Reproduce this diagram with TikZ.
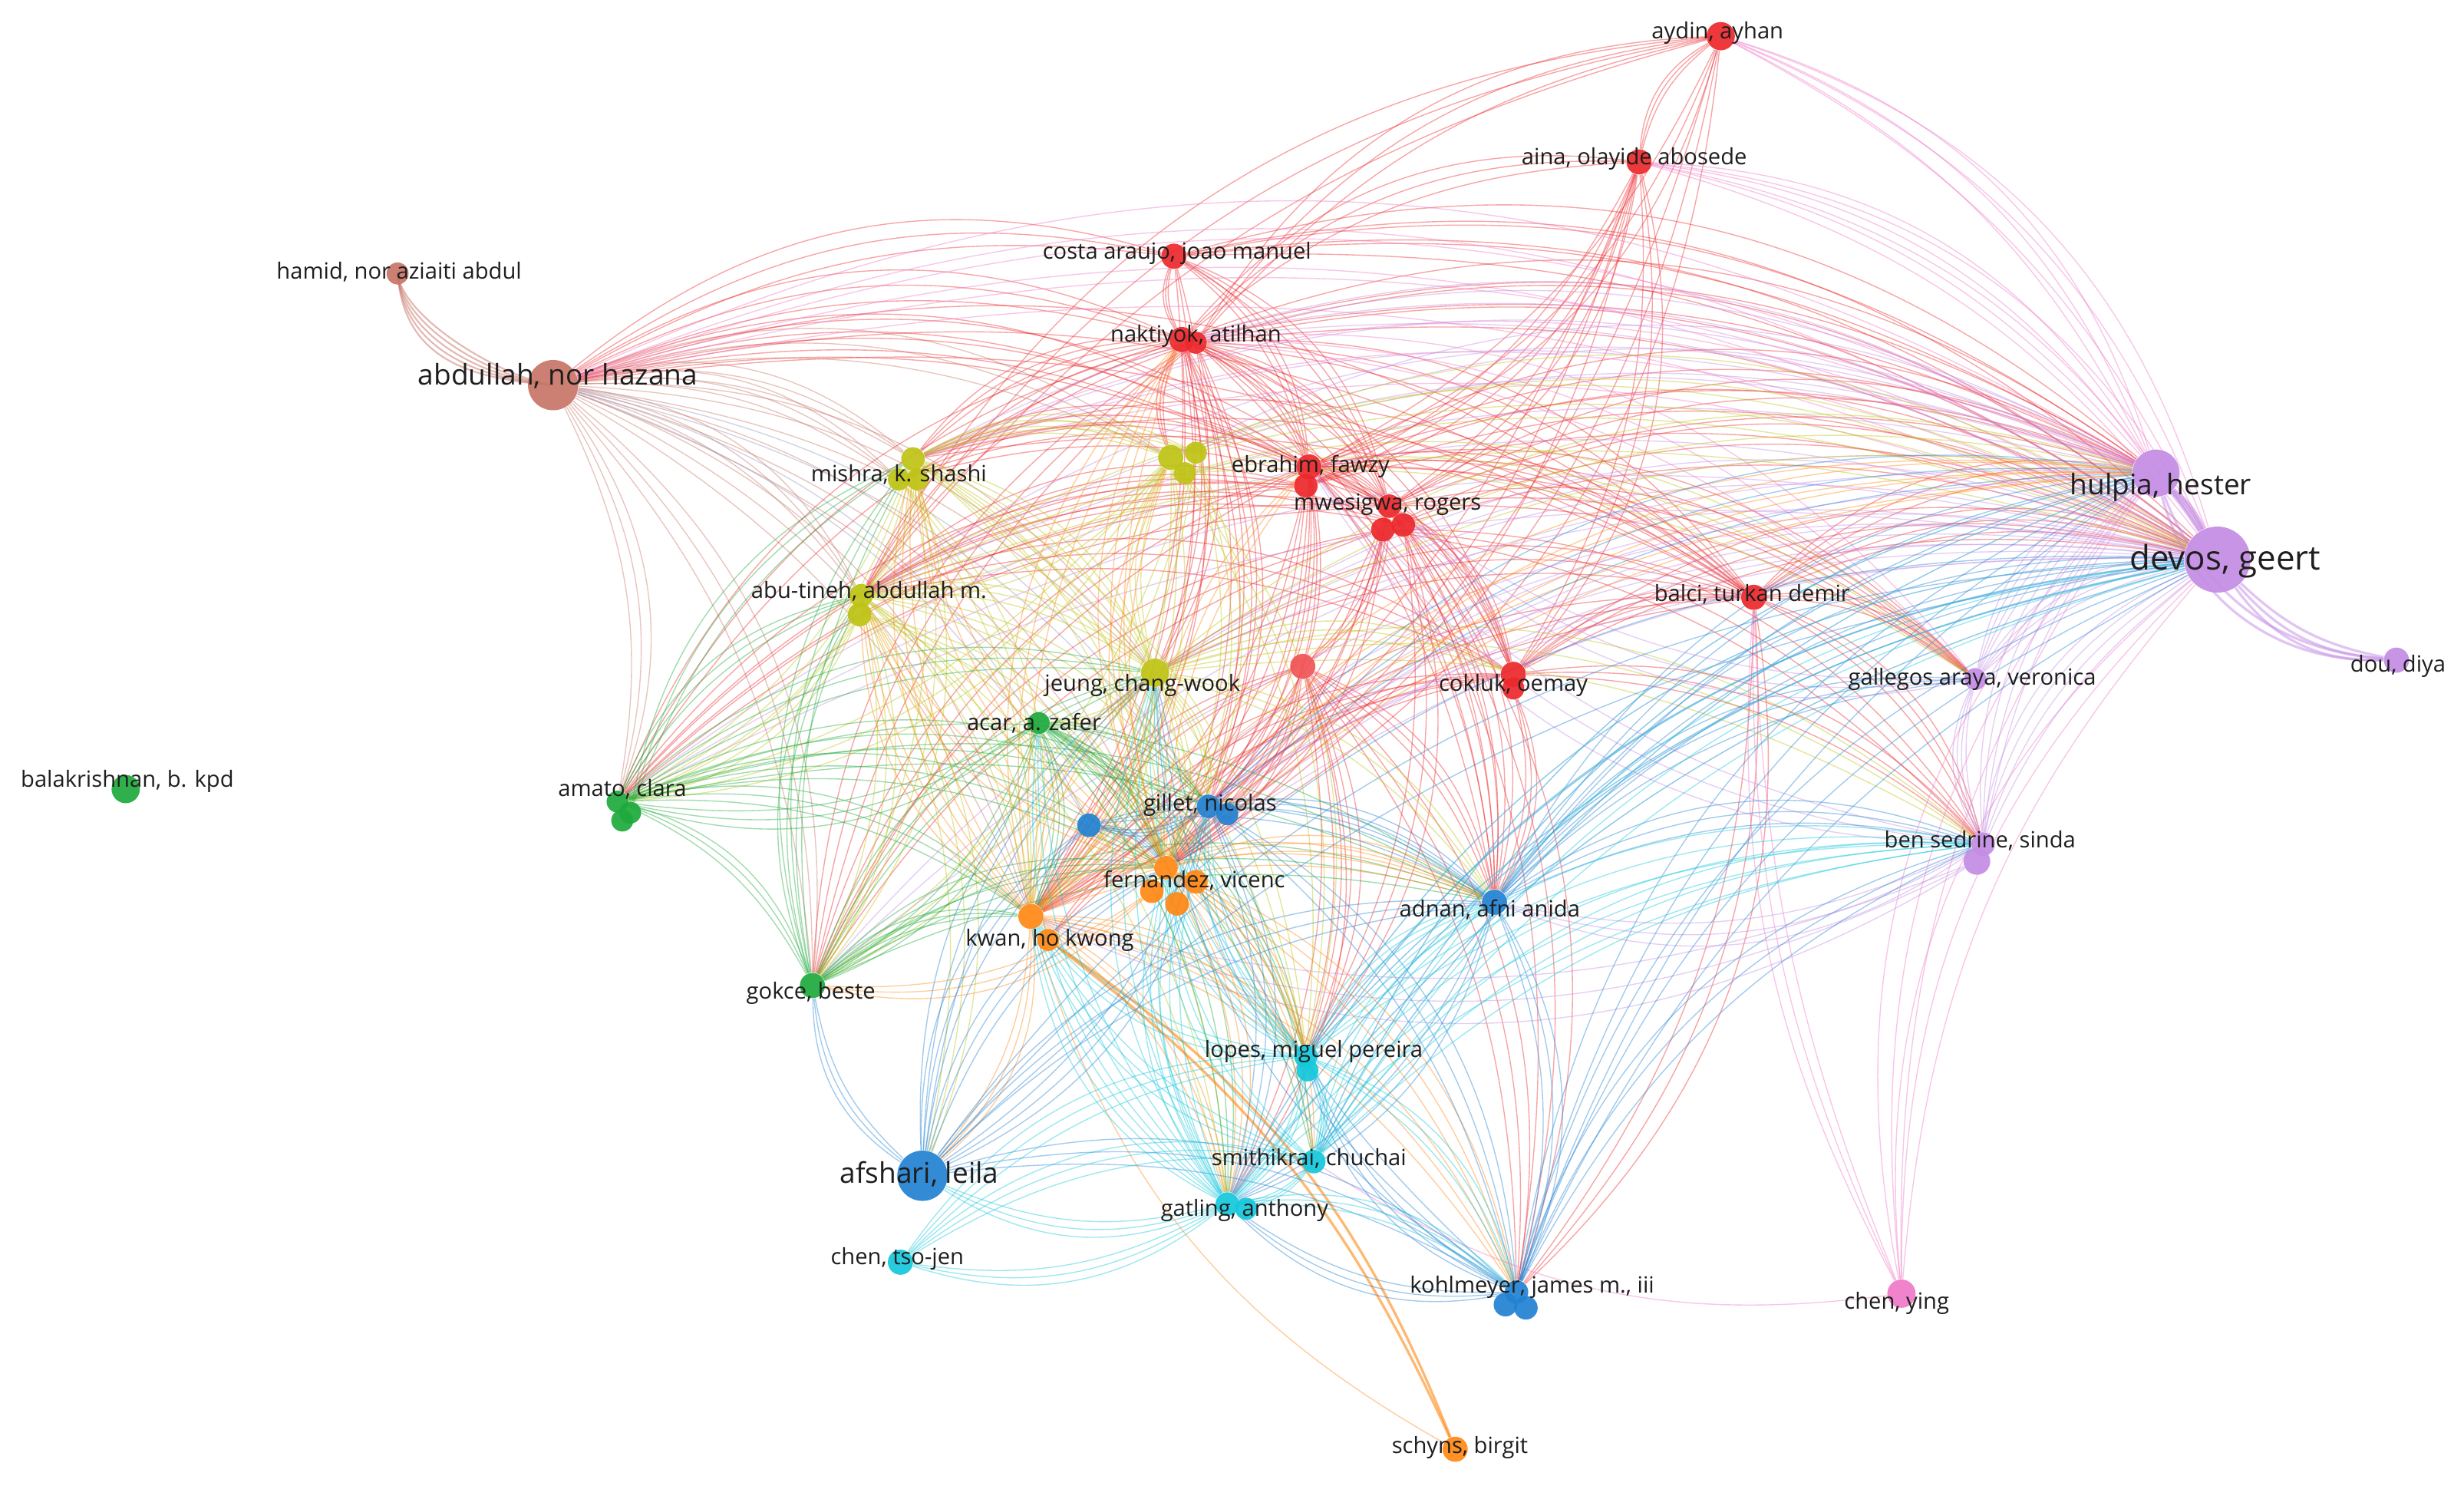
\documentclass[tikz,border=0pt]{standalone}
\usepackage{fontspec}
\setmainfont{Open Sans}
\definecolor{cRed}{RGB}{236,40,44}
\definecolor{cGreen}{RGB}{30,170,60}
\definecolor{cBlue}{RGB}{34,130,210}
\definecolor{cYellow}{RGB}{190,196,20}
\definecolor{cPurple}{RGB}{196,140,228}
\definecolor{cCyan}{RGB}{20,200,220}
\definecolor{cOrange}{RGB}{255,136,20}
\definecolor{cBrown}{RGB}{200,118,104}
\definecolor{cPink}{RGB}{240,120,200}
\definecolor{cText}{RGB}{30,30,30}
\definecolor{cGrey}{RGB}{150,150,190}
\pgfdeclarelayer{bg}
\pgfsetlayers{bg,main}
\tikzset{
 vn/.style={circle,inner sep=0pt,minimum size=#1*0.2mm,fill opacity=0.92},
 lb/.style={font=\fontsize{8.1}{9}\selectfont,text=cText,inner sep=0pt},
 lbm/.style={font=\fontsize{10.3}{11}\selectfont,text=cText,inner sep=0pt},
 lbb/.style={font=\fontsize{12.2}{13}\selectfont,text=cText,inner sep=0pt},
 lnk/.style={line width=0.38pt,draw opacity=0.42},
}
\newcommand\bundle[3]{\foreach \a/\b in {#2}{\foreach \bb in {#3}{\draw[lnk,#1] (\a) to[bend left=\bb] (\b);}}}
\begin{document}
\begin{tikzpicture}[x=0.2mm,y=-0.2mm]
\useasboundingbox (0,0) rectangle (1568,945);
% ---------- nodes ----------
\node[vn=18,fill=cRed] (aydin) at (1095,23) {};
\node[vn=16,fill=cRed] (aina) at (1043,103) {};
\node[vn=16,fill=cRed] (costa) at (747,163) {};
\node[vn=14,fill=cBrown] (hamid) at (253,174) {};
\node[vn=32,fill=cBrown] (abdullah) at (352,245) {};
\node[vn=16,fill=cRed] (naktiyok) at (752,216) {};
\node[vn=14,fill=cRed] (naktiyokb) at (761,218) {};
\node[vn=15,fill=cYellow] (mishra) at (581,292) {};
\node[vn=14,fill=cYellow] (mishrab) at (572,305) {};
\node[vn=14,fill=cYellow] (mishrac) at (584,305) {};
\node[vn=16,fill=cYellow] (yel) at (745,291) {};
\node[vn=14,fill=cYellow] (yelb) at (761,288) {};
\node[vn=14,fill=cYellow] (yelc) at (754,301) {};
\node[vn=16,fill=cRed] (ebrahim) at (833,297) {};
\node[vn=15,fill=cRed] (ebrahimb) at (831,309) {};
\node[vn=15,fill=cRed] (mwesigwa) at (884,322) {};
\node[vn=15,fill=cRed] (mwesigwab) at (880,337) {};
\node[vn=15,fill=cRed] (mwesigwac) at (893,334) {};
\node[vn=30,fill=cPurple] (hulpia) at (1372,301) {};
\node[vn=42,fill=cPurple] (devos) at (1411,356) {};
\node[vn=16,fill=cRed] (balci) at (1116,380) {};
\node[vn=15,fill=cYellow] (abutineh) at (548,379) {};
\node[vn=15,fill=cYellow] (abutinehb) at (547,391) {};
\node[vn=18,fill=cYellow] (jeung) at (735,428) {};
\node[vn=14,fill=cGreen] (acar) at (661,460) {};
\node[vn=16,fill=cRed!80] (redx) at (829,424) {};
\node[vn=16,fill=cRed] (cokluk) at (963,429) {};
\node[vn=14,fill=cRed] (coklukb) at (963,438) {};
\node[vn=14,fill=cPurple] (gallegos) at (1257,432) {};
\node[vn=16,fill=cPurple] (dou) at (1525,420) {};
\node[vn=18,fill=cGreen] (balakrishnan) at (80,502) {};
\node[vn=14,fill=cGreen] (amato) at (393,510) {};
\node[vn=14,fill=cGreen] (amatob) at (401,517) {};
\node[vn=14,fill=cGreen] (amatoc) at (396,522) {};
\node[vn=15,fill=cBlue] (gillet) at (769,513) {};
\node[vn=14,fill=cBlue] (gilletb) at (781,518) {};
\node[vn=15,fill=cBlue] (bluex) at (693,525) {};
\node[vn=15,fill=cPurple] (bensedrine) at (1262,537) {};
\node[vn=17,fill=cPurple] (bensedrineb) at (1258,548) {};
\node[vn=15,fill=cOrange] (fernandez) at (742,552) {};
\node[vn=15,fill=cOrange] (fernandezb) at (733,567) {};
\node[vn=15,fill=cOrange] (fernandezc) at (749,575) {};
\node[vn=15,fill=cOrange] (fernandezd) at (761,561) {};
\node[vn=16,fill=cBlue] (adnan) at (951,574) {};
\node[vn=16,fill=cOrange] (kwan) at (656,583) {};
\node[vn=14,fill=cOrange] (kwanb) at (667,598) {};
\node[vn=16,fill=cGreen] (gokce) at (517,627) {};
\node[vn=15,fill=cCyan] (lopes) at (831,672) {};
\node[vn=14,fill=cCyan] (lopesb) at (832,681) {};
\node[vn=32,fill=cBlue] (afshari) at (587,748) {};
\node[vn=15,fill=cCyan] (smithikrai) at (836,739) {};
\node[vn=15,fill=cCyan] (gatling) at (781,766) {};
\node[vn=14,fill=cCyan] (gatlingb) at (793,769) {};
\node[vn=16,fill=cCyan] (chentsojen) at (573,803) {};
\node[vn=15,fill=cBlue] (kohlmeyer) at (965,822) {};
\node[vn=15,fill=cBlue] (kohlmeyerb) at (958,830) {};
\node[vn=15,fill=cBlue] (kohlmeyerc) at (971,832) {};
\node[vn=18,fill=cPink] (chenying) at (1210,823) {};
\node[vn=16,fill=cOrange] (schyns) at (926,922) {};
% ---------- links ----------
\begin{pgfonlayer}{bg}
\fill[white] (0,0) rectangle (1568,945);
% brown
\foreach \dd in {30,36,42,48,54}{\draw[cBrown,line width=0.6pt,draw opacity=0.5] (hamid.center) .. controls +(4,\dd) and +(-\dd,-4) .. (abdullah.center);}
\bundle{cBrown}{abdullah/mishra, abdullah/abutineh, abdullah/jeung, abdullah/fernandez, abdullah/kwan, abdullah/gokce, abdullah/yel, abdullah/amato, abdullah/mishrab}{18,23,28}
\bundle{cGrey}{abdullah/bluex, abdullah/gillet}{20,24}
% red
\bundle{cRed}{naktiyok/costa, naktiyok/aina, naktiyokb/aydin, naktiyok/ebrahim, naktiyokb/mwesigwa, naktiyok/cokluk, naktiyokb/balci, abdullah/naktiyok, mishra/naktiyok, abutineh/naktiyokb, naktiyok/jeung, naktiyokb/fernandez, naktiyok/kwan, naktiyok/hulpia, naktiyokb/devos, naktiyok/gillet, naktiyokb/adnan, yel/naktiyok, amato/naktiyok, gokce/naktiyokb}{18,23,28}
\bundle{cRed}{costa/ebrahim, costa/mwesigwa, costa/devos, costa/hulpia, abdullah/costa, costa/kwan, aina/aydin, aina/mwesigwa, aina/ebrahimb, aina/cokluk, aina/kwan, aydin/ebrahim, aydin/fernandez, abutineh/aydin}{18,23,28}
\bundle{cRed}{ebrahim/mwesigwa, ebrahim/cokluk, abdullah/ebrahim, mishra/ebrahim, abutineh/ebrahimb, ebrahim/fernandez, ebrahimb/kwan, ebrahim/hulpia, ebrahimb/devos, ebrahim/adnan, ebrahim/gillet, gokce/ebrahim, amato/ebrahimb, ebrahim/balci, ebrahim/gallegos}{18,23,28}
\bundle{cRed}{mwesigwa/cokluk, mwesigwa/redx, mwesigwab/fernandez, mwesigwa/kwan, mwesigwab/devos, mwesigwa/hulpia, abdullah/mwesigwa, mwesigwac/adnan, mwesigwa/gallegos, mwesigwab/bensedrine, mwesigwac/lopes, mwesigwa/kohlmeyer, mishrab/mwesigwa, abutineh/mwesigwac, amato/mwesigwa, gokce/mwesigwab}{18,23,28}
\bundle{cRed}{cokluk/balci, kwan/cokluk, fernandez/cokluk, cokluk/devos, cokluk/bensedrine, abutineh/cokluk, coklukb/adnan, balci/devos, balci/hulpia, balci/gallegos, balci/bensedrine, abdullah/balci, mishra/balci, kwanb/balci, balci/kohlmeyer, jeung/balci, redx/fernandez, redx/adnan, redx/lopes, redx/kohlmeyer, kwan/redx, redx/gatling}{18,23,28}
% pink
\bundle{cPink}{aina/devos, aina/hulpia, aydin/hulpia, aydin/devos, chenying/devos, chenying/hulpia, abdullah/devos, abdullah/hulpia, mishra/devos, naktiyok/gallegos}{18,23,28}
\bundle{cPink}{chenying/balci}{10,13,16}
\draw[lnk,cPink] (chenying) to[bend left=20] (smithikrai);
% purple
\foreach \bb in {3,6,9,12}{\draw[cPurple,line width=1.2pt,draw opacity=0.55] (hulpia) to[bend left=\bb] (devos);}
\foreach \bb in {-28,-22,-16}{\draw[cPurple,line width=0.9pt,draw opacity=0.5] (devos) to[bend left=\bb] (dou);}
\foreach \bb in {-38,-32}{\draw[cPurple,line width=0.9pt,draw opacity=0.5] (hulpia) to[bend left=\bb] (dou);}
\bundle{cPurple}{bensedrine/hulpia, bensedrineb/devos, gallegos/hulpia, gallegos/devos, bensedrine/gallegos}{14,19,24,29}
\bundle{cPurple}{abutineh/hulpia, mishra/hulpia, jeung/devos, kwan/devos, fernandez/devos, gillet/devos, lopes/devos, gatling/devos, smithikrai/hulpia, yel/hulpia, amato/devos, gokce/hulpia, naktiyok/devos, bensedrine/adnan, bensedrineb/kwan, gallegos/mwesigwa, bensedrine/ebrahim}{18,23,28}
% yellow
\bundle{cYellow}{mishra/abutineh, mishra/jeung, mishra/yel, mishrab/kwan, mishra/fernandez, mishrac/gokce, mishra/amato, mishra/lopes, abutineh/jeung, abutineh/kwan, abutinehb/fernandez, abutineh/gokce, abutinehb/amato, abutineh/afshari, abutineh/devos, abutineh/gillet, abutineh/gatling, jeung/yel, jeung/fernandez, jeung/kwan, jeung/gillet, jeung/acar, jeung/hulpia, jeung/cokluk, jeung/adnan, yel/kwan, yelb/fernandez, yel/devos, yelc/gallegos, yel/lopes, yel/abutineh, yelb/gokce, yel/amato, mishra/yelb, jeung/bensedrine}{18,23,28}
% green
\bundle{cGreen}{acar/amato, acar/gokce, acar/kwan, acar/fernandez, acar/gillet, acar/lopes, acar/gatling, acar/smithikrai, amato/gokce, amato/jeung, amato/kwan, amato/fernandez, amato/adnan, amato/gillet, gokce/kwan, gokce/fernandez, gokce/jeung, gokce/abutineh, amatob/mishra, amato/abutineh, gokce/mishra, gokce/adnan}{18,23,28}
% orange
\bundle{cOrange}{kwan/fernandez, kwan/jeung, kwan/naktiyok, kwan/mishra, kwan/abutineh, kwan/afshari, kwan/gatling, kwan/lopes, kwan/adnan, kwan/kohlmeyer, kwan/hulpia, fernandez/naktiyok, fernandez/ebrahim, fernandez/gillet, fernandez/adnan, fernandez/lopes, fernandez/gatling, fernandez/smithikrai, fernandez/hulpia, fernandez/mishra, fernandez/abutineh, fernandez/yel, fernandezb/gokce, fernandez/kohlmeyer}{18,23,28}
\draw[lnk,cOrange] (schyns) to[bend left=22] (kwan);
\foreach \bb in {14,17}{\draw[cOrange,line width=0.9pt,draw opacity=0.6] (kwanb) to[bend left=\bb] (schyns);}
% blue
\bundle{cBlue}{gillet/bluex, gillet/adnan, gillet/afshari, gillet/kohlmeyer, gillet/hulpia, gillet/gatling, adnan/kohlmeyer, afshari/adnan, adnan/devos, adnan/hulpia, adnan/gallegos, adnan/bensedrine, adnan/gatling, afshari/kohlmeyer, afshari/bluex, afshari/devos, afshari/gokce, kohlmeyer/devos, kohlmeyer/hulpia, kohlmeyer/bensedrine, kohlmeyer/gatling, kohlmeyer/lopes, bluex/fernandez, bluex/adnan, afshari/fernandez, afshari/jeung, kohlmeyer/jeung}{18,23,28}
% cyan
\bundle{cCyan}{lopes/smithikrai, lopes/gatling, lopes/kwan, lopes/fernandez, lopes/jeung, lopes/gillet, lopes/adnan, lopes/kohlmeyer, lopes/devos, lopes/bensedrine, smithikrai/gatling, smithikrai/kwan, smithikrai/fernandez, smithikrai/devos, smithikrai/hulpia, smithikrai/bensedrine, gatling/chentsojen, gatling/kwan, gatling/fernandez, gatling/jeung, gatling/acar, gatling/kohlmeyer, gatling/devos, gatling/bensedrine, chentsojen/smithikrai, chentsojen/lopes, gatling/gillet, gatling/afshari, smithikrai/adnan}{18,23,28}
\end{pgfonlayer}
% ---------- labels ----------
\node[lb] (aydin-l) at (1093,21) {aydin, ayhan};
\node[lb] (aina-l) at (1040,101) {aina, olayide abosede};
\node[lb] (costa-l) at (749,161) {costa araujo, joao manuel};
\node[lb] (hamid-l) at (254,173) {hamid, nor aziaiti abdul};
\node[lbm] (abdullah-l) at (355,239) {abdullah, nor hazana};
\node[lb] (naktiyok-l) at (761,214) {naktiyok, atilhan};
\node[lb] (mishra-l) at (572,302) {mishra, k. shashi};
\node[lb] (ebrahim-l) at (834,297) {ebrahim, fawzy};
\node[lb] (mwesigwa-l) at (883,321) {mwesigwa, rogers};
\node[lbm] (hulpia-l) at (1375,310) {hulpia, hester};
\node[lbb] (devos-l) at (1416,357) {devos, geert};
\node[lb] (balci-l) at (1115,378) {balci, turkan demir};
\node[lb] (abutineh-l) at (553,376) {abu-tineh, abdullah m.};
\node[lb] (jeung-l) at (727,436) {jeung, chang-wook};
\node[lb] (acar-l) at (658,460) {acar, a. zafer};
\node[lb] (cokluk-l) at (963,436) {cokluk, oemay};
\node[lb] (gallegos-l) at (1255,432) {gallegos araya, veronica};
\node[lb] (dou-l) at (1526,424) {dou, diya};
\node[lb] (balakrishnan-l) at (81,497) {balakrishnan, b. kpd};
\node[lb] (amato-l) at (396,502) {amato, clara};
\node[lb] (gillet-l) at (770,512) {gillet, nicolas};
\node[lb] (bensedrine-l) at (1260,535) {ben sedrine, sinda};
\node[lb] (fernandez-l) at (760,560) {fernandez, vicenc};
\node[lb] (adnan-l) at (948,579) {adnan, afni anida};
\node[lb] (kwan-l) at (668,598) {kwan, ho kwong};
\node[lb] (gokce-l) at (516,632) {gokce, beste};
\node[lb] (lopes-l) at (836,669) {lopes, miguel pereira};
\node[lbm] (afshari-l) at (585,747) {afshari, leila};
\node[lb] (smithikrai-l) at (833,737) {smithikrai, chuchai};
\node[lb] (gatling-l) at (792,770) {gatling, anthony};
\node[lb] (chentsojen-l) at (571,801) {chen, tso-jen};
\node[lb] (kohlmeyer-l) at (975,819) {kohlmeyer, james m., iii};
\node[lb] (chenying-l) at (1207,829) {chen, ying};
\node[lb] (schyns-l) at (929,921) {schyns, birgit};
\end{tikzpicture}
\end{document}
